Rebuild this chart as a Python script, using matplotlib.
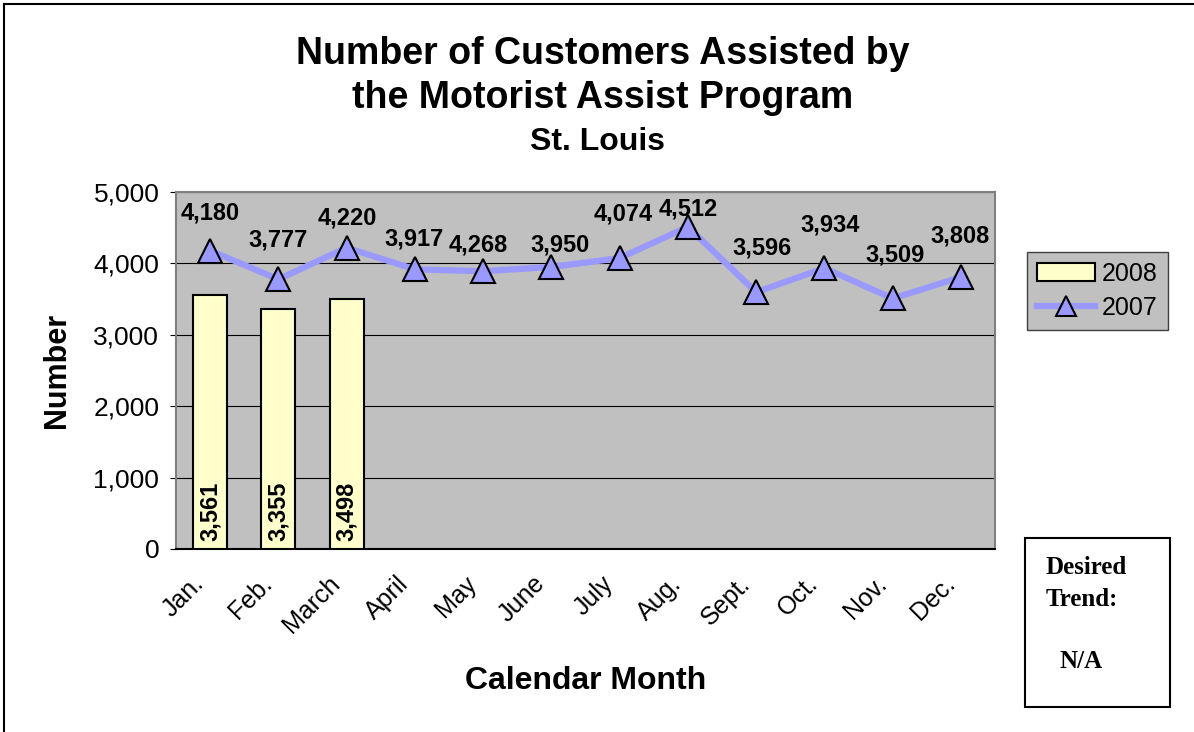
import matplotlib
matplotlib.use('Agg')
import matplotlib.pyplot as plt
from matplotlib.patches import Patch, Rectangle
from matplotlib.lines import Line2D
from matplotlib.transforms import ScaledTranslation

plt.rcParams['font.family'] = ['Liberation Sans', 'DejaVu Sans']

### Dati
months = ['Jan.', 'Feb.', 'March', 'April', 'May', 'June', 'July', 'Aug.',
          'Sept.', 'Oct.', 'Nov.', 'Dec.']
v2008 = [3561, 3355, 3498]
# valori come disegnati (May e' disegnato sotto i 4,000 nel grafico originale)
v2007 = [4180, 3777, 4220, 3917, 3890, 3950, 4074, 4512, 3596, 3934, 3509, 3808]
# etichette come scritte sul grafico
lab2007 = ['4,180', '3,777', '4,220', '3,917', '4,268', '3,950', '4,074', '4,512',
           '3,596', '3,934', '3,509', '3,808']
yticks = [0, 1000, 2000, 3000, 4000, 5000]

# spostamento etichette (pixel) rispetto al punto
lab_dx = [0, 0, 1, -1, -5, 9, 4, 0, 6, 6, 2, -1]
lab_dy = [38, 39, 30, 30, 26, 22, 44, 18, 44, 43, 43, 41]

fig = plt.figure(figsize=(11.94, 7.32), dpi=100)
ax = fig.add_axes([176/1194, 1-549/732, (995-176)/1194, (549-192)/732])
ax.set_facecolor('#c0c0c0')

# barre 2008
x08 = list(range(len(v2008)))
ax.bar(x08, v2008, width=0.5, color='#ffffcc', edgecolor='black', linewidth=1.5, zorder=3)
for i, v in zip(x08, v2008):
    ax.annotate(f'{v:,}', (i, 0), xytext=(0, 6), textcoords='offset points',
                rotation=90, ha='center', va='bottom', fontsize=17, fontweight='bold', zorder=5)

# linea 2007
x07 = list(range(len(v2007)))
ax.plot(x07, v2007, color='#9999ff', lw=4.5, marker='^', ms=17, mfc='#9999ff',
        mec='black', mew=1.5, zorder=4)
for i, v in zip(x07, v2007):
    ax.annotate(lab2007[i], (i, v), xytext=(lab_dx[i]*0.72, lab_dy[i]*0.72),
                textcoords='offset points', ha='center', va='center',
                fontsize=17, fontweight='bold', zorder=5)

ax.set_xlim(-0.5, 11.5)
ax.set_ylim(0, 5000)
ax.set_yticks(yticks)
ax.set_yticklabels([f'{t:,}' for t in yticks])
ax.yaxis.grid(True, color='black', lw=0.8, zorder=1)
ax.set_axisbelow(True)
ax.set_xticks(x07)
ax.set_xticklabels([])
# etichette mesi ruotate, spostate un po' a sinistra come nell'originale
tr = ax.get_xaxis_transform() + ScaledTranslation(-0.10, -0.31, fig.dpi_scale_trans)
for i, m in enumerate(months):
    ax.text(i, 0, m, transform=tr, rotation=45, rotation_mode='anchor',
            ha='right', va='center', fontsize=18, clip_on=False)
ax.tick_params(axis='y', labelsize=19, length=4, pad=8)
ax.tick_params(axis='x', length=0)
for s in ax.spines.values():
    s.set_color('#808080')
    s.set_linewidth(1.5)
ax.spines['bottom'].set_color('black')

# titoli
fig.text(0.505, 1-54/732, 'Number of Customers Assisted by', ha='center', va='center',
         fontsize=27, fontweight='bold')
fig.text(0.505, 1-98/732, 'the Motorist Assist Program', ha='center', va='center',
         fontsize=27, fontweight='bold')
fig.text(0.5, 1-142/732, 'St. Louis', ha='center', va='center', fontsize=23, fontweight='bold')
fig.text(57/1194, 1-370/732, 'Number', rotation=90, ha='center', va='center',
         fontsize=22, fontweight='bold')
fig.text(586/1194, 1-681/732, 'Calendar Month', ha='center', va='center',
         fontsize=23, fontweight='bold')

# legenda
handles = [Patch(facecolor='#ffffcc', edgecolor='black', linewidth=1.5, label='2008'),
           Line2D([], [], color='#9999ff', lw=4.5, marker='^', ms=14, mfc='#9999ff',
                  mec='black', mew=1.5, label='2007')]
leg = fig.legend(handles=handles, loc='upper left', bbox_to_anchor=(1027/1194, 1-252/732),
                 bbox_transform=fig.transFigure, borderaxespad=0, fontsize=18,
                 fancybox=False, framealpha=1, facecolor='#c0c0c0', edgecolor='#404040',
                 handlelength=2.3, handletextpad=0.3, labelspacing=0.4, borderpad=0.4)

# box Desired Trend
fig.add_artist(Rectangle((1025/1194, 1-707/732), 145/1194, 169/732, transform=fig.transFigure,
                         fill=False, edgecolor='black', lw=1.5))
fig.text(1046/1194, 1-567/732, 'Desired', ha='left', va='center', fontsize=18,
         fontweight='bold', family='Liberation Serif')
fig.text(1046/1194, 1-599/732, 'Trend:', ha='left', va='center', fontsize=18,
         fontweight='bold', family='Liberation Serif')
fig.text(1060/1194, 1-662/732, 'N/A', ha='left', va='center', fontsize=18,
         fontweight='bold', family='Liberation Serif')

# cornice esterna (solo sinistra e alto)
fig.add_artist(Line2D([4/1194, 4/1194], [0, 1-4/732], transform=fig.transFigure, color='black', lw=1.5))
fig.add_artist(Line2D([4/1194, 1], [1-4/732, 1-4/732], transform=fig.transFigure, color='black', lw=1.5))

fig.savefig('out.png', dpi=100)
